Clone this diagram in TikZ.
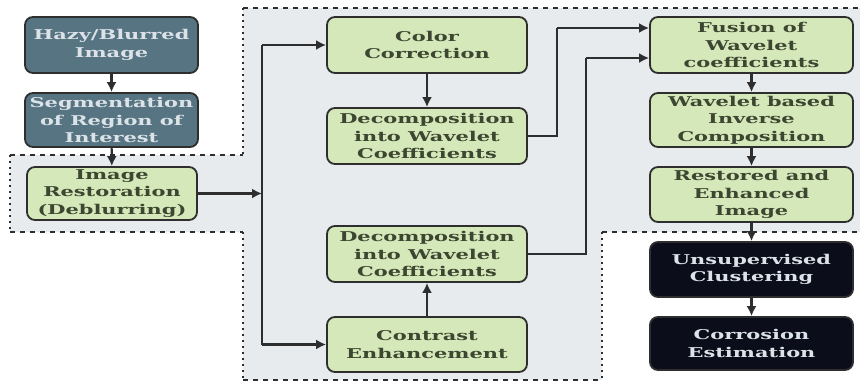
\documentclass[tikz,border=0pt]{standalone}
\usepackage{fontspec}
\usetikzlibrary{arrows.meta}
\newfontfamily\boxfont[FakeStretch=1.55]{DejaVu Serif}
\definecolor{bgray}{HTML}{E8EBED}
\definecolor{darkbox}{HTML}{577482}
\definecolor{blackbox}{HTML}{0B0E1A}
\definecolor{greenbox}{HTML}{D5E8BA}
\definecolor{greentext}{HTML}{3C4630}
\definecolor{lighttext}{HTML}{DCE3E8}
\definecolor{linec}{HTML}{2E2E2E}
\tikzset{
  basebox/.style={rounded corners=8pt, draw=linec, line width=1.8pt, align=center,
    inner sep=1pt, font=\boxfont\bfseries\fontsize{13.5}{17.5}\selectfont},
  tealbox/.style={basebox, fill=darkbox, text=lighttext},
  greenbx/.style={basebox, fill=greenbox, text=greentext},
  blackbx/.style={basebox, fill=blackbox, text=lighttext},
  conn/.style={draw=linec, line width=2.1pt, -{Latex[length=10pt,width=10pt]}},
  plain/.style={draw=linec, line width=2.1pt},
  hdash/.style={draw=linec, line width=1.5pt, dash pattern=on 5pt off 5pt},
  vdot/.style={draw=linec, line width=2.2pt, dash pattern=on 2pt off 4pt}
}
\begin{document}
\begin{tikzpicture}[x=1pt,y=-1pt]
\useasboundingbox (0,0) rectangle (860,383);
% background region
\fill[bgray] (243,8) -- (860,8) -- (860,232) -- (602,232) -- (602,380) -- (243,380) -- (243,232) -- (10,232) -- (10,155) -- (243,155) -- cycle;
\draw[hdash] (243,8) -- (860,8);
\draw[hdash] (10,155) -- (243,155);
\draw[hdash] (10,232) -- (243,232);
\draw[hdash] (243,380) -- (602,380);
\draw[hdash] (602,232) -- (860,232);
\draw[vdot] (243,8) -- (243,155);
\draw[vdot] (243,232) -- (243,380);
\draw[vdot] (10,155) -- (10,232);
\draw[vdot] (602,232) -- (602,380);

% nodes
\node[tealbox, minimum width=173pt, minimum height=56pt] (hazy) at (111.5,45) {Hazy/Blurred\\Image};
\node[tealbox, minimum width=173pt, minimum height=54pt] (seg) at (111.5,120) {Segmentation\\of Region of\\Interest};
\node[greenbx, minimum width=170pt, minimum height=53pt] (rest) at (112,193.5) {Image\\Restoration\\(Deblurring)};
\node[greenbx, minimum width=200pt, minimum height=56pt] (cc) at (427,45) {Color\\Correction};
\node[greenbx, minimum width=200pt, minimum height=56pt] (d1) at (427,136) {Decomposition\\into Wavelet\\Coefficients};
\node[greenbx, minimum width=200pt, minimum height=56pt] (d2) at (427,254) {Decomposition\\into Wavelet\\Coefficients};
\node[greenbx, minimum width=200pt, minimum height=55pt] (ce) at (427,344.5) {Contrast\\Enhancement};
\node[greenbx, minimum width=203pt, minimum height=56pt] (fus) at (751.5,45) {Fusion of\\Wavelet\\coefficients};
\node[greenbx, minimum width=203pt, minimum height=54pt] (wb) at (751.5,120) {Wavelet based\\Inverse\\Composition};
\node[greenbx, minimum width=203pt, minimum height=55pt] (re) at (751.5,194.5) {Restored and\\Enhanced\\Image};
\node[blackbx, minimum width=203pt, minimum height=55pt] (us) at (751.5,269.5) {Unsupervised\\Clustering};
\node[blackbx, minimum width=203pt, minimum height=53pt] (co) at (751.5,343.5) {Corrosion\\Estimation};

% junction coordinates
\coordinate (j) at (262,193.5);
\coordinate (jt) at (262,45);
\coordinate (jb) at (262,344.5);
\coordinate (f1) at (557,28);
\coordinate (f2) at (586,58);

% connectors
\draw[conn] (hazy) -- (seg);
\draw[conn] (seg) -- (rest);
\draw[conn] (rest.east) -- (j);
\draw[plain] (jt) -- (jb);
\draw[conn] (jt) -- (cc.west);
\draw[conn] (jb) -- (ce.west);
\draw[conn] (cc) -- (d1);
\draw[conn] (ce) -- (d2);
\draw[plain] (d1.east) -| (f1);
\draw[conn] (f1) -- (fus.west |- f1);
\draw[plain] (d2.east) -| (f2);
\draw[conn] (f2) -- (fus.west |- f2);
\draw[conn] (fus) -- (wb);
\draw[conn] (wb) -- (re);
\draw[conn] (re) -- (us);
\draw[conn] (us) -- (co);
\end{tikzpicture}
\end{document}
